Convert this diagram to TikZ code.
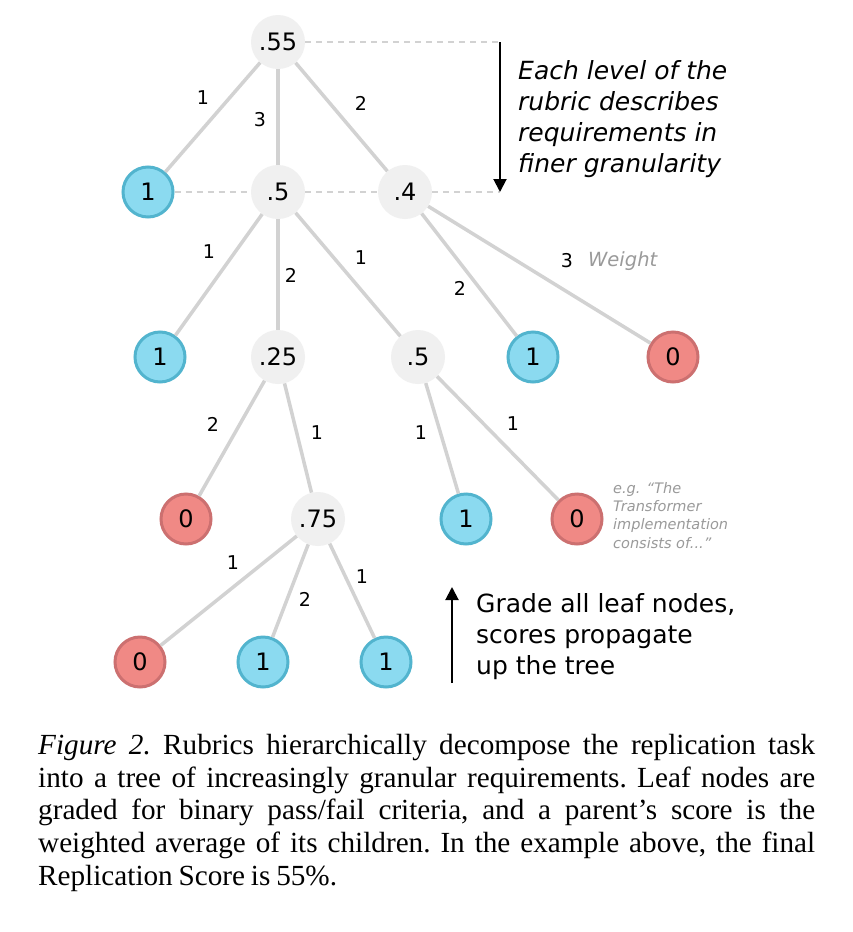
\documentclass[tikz,border=0pt]{standalone}
\usepackage{fontspec}
\setmainfont{Liberation Serif}
\newfontfamily\diagfont{DejaVu Sans}
\usetikzlibrary{arrows.meta}
\definecolor{nodegray}{HTML}{F0F0F0}
\definecolor{passfill}{HTML}{8BDAF0}
\definecolor{passline}{HTML}{52B4CE}
\definecolor{failfill}{HTML}{F08985}
\definecolor{failline}{HTML}{CC7070}
\definecolor{edgegray}{HTML}{D2D2D2}
\definecolor{notegray}{HTML}{9A9A9A}
\newcommand\captionspacing{\frenchspacing\spaceskip=0.2em plus 0.4em minus 0.06em\relax}
\tikzset{
    score/.style={font=\diagfont\fontsize{24}{24}\selectfont, inner sep=0pt},
    inner/.style={score, circle, fill=nodegray, minimum size=54pt},
    pass/.style={score, circle, fill=passfill, draw=passline, line width=3pt, minimum size=50pt},
    fail/.style={score, circle, fill=failfill, draw=failline, line width=3pt, minimum size=50pt},
    edge/.style={edgegray, line width=3.5pt},
    level/.style={edgegray, line width=2pt, dash pattern=on 6pt off 5pt},
    weight/.style={font=\diagfont\fontsize{19}{19}\selectfont, inner sep=0pt},
    hint/.style={font=\diagfont\itshape\fontsize{25}{31}\selectfont, inner sep=0pt, align=left, anchor=north west},
    note/.style={notegray, font=\diagfont\itshape\fontsize{14.5}{18.3}\selectfont, inner sep=0pt, align=left, anchor=north west},
    flow/.style={-{Triangle[width=13pt,length=13pt]}, line width=2pt, black}
}
\begin{document}
\begin{tikzpicture}[x=1pt, y=-1pt]
\path[use as bounding box, fill=white] (0,0) rectangle (852,932);

% level lines and arrows
\coordinate (top) at (500,42);
\coordinate (bot) at (500,192);
\coordinate (upS) at (452,683);
\coordinate (upE) at (452,587);

\node[inner] at (278,42) (r) {.55};

\node[pass] at (148,192) (a1) {1};
\node[inner] at (278,192) (a2) {.5};
\node[inner] at (405,192) (a3) {.4};

\node[pass] at (160,357) (b1) {1};
\node[inner] at (278,357) (b2) {.25};
\node[inner] at (418,357) (b3) {.5};
\node[pass] at (533,357) (b4) {1};
\node[fail] at (673,357) (b5) {0};

\node[fail] at (186,519) (c1) {0};
\node[inner] at (318,519) (c2) {.75};
\node[pass] at (466,519) (c3) {1};
\node[fail] at (577,519) (c4) {0};

\node[fail] at (140,662) (d1) {0};
\node[pass] at (263,662) (d2) {1};
\node[pass] at (386,662) (d3) {1};

\draw[level] (r) -- (top);
\draw[level] (a1) -- (a2);
\draw[level] (a2) -- (a3);
\draw[level] (a3) -- (bot);
\draw[flow] (top) -- (bot);
\draw[flow] (upS) -- (upE);

\draw[edge] (r) -- (a1);
\draw[edge] (r) -- (a2);
\draw[edge] (r) -- (a3);
\draw[edge] (a2) -- (b1);
\draw[edge] (a2) -- (b2);
\draw[edge] (a2) -- (b3);
\draw[edge] (a3) -- (b4);
\draw[edge] (a3) -- (b5);
\draw[edge] (b2) -- (c1);
\draw[edge] (b2) -- (c2);
\draw[edge] (b3) -- (c3);
\draw[edge] (b3) -- (c4);
\draw[edge] (c2) -- (d1);
\draw[edge] (c2) -- (d2);
\draw[edge] (c2) -- (d3);

% weights
\node[weight] at (203,98) (w1) {1};
\node[weight] at (260,120) (w2) {3};
\node[weight] at (361,103) (w3) {2};
\node[weight] at (209,252) (w4) {1};
\node[weight] at (291,275) (w5) {2};
\node[weight] at (361,258) (w6) {1};
\node[weight] at (460,288) (w7) {2};
\node[weight] at (567,261) (w8) {3};
\node[weight] at (213,424) (w9) {2};
\node[weight] at (317,433) (w10) {1};
\node[weight] at (421,433) (w11) {1};
\node[weight] at (513,424) (w12) {1};
\node[weight] at (233,563) (w13) {1};
\node[weight] at (305,599) (w14) {2};
\node[weight] at (362,577) (w15) {1};
\node[weight, notegray, font=\diagfont\itshape\fontsize{19.5}{19.5}\selectfont, anchor=west] at (588,261) (wlabel) {Weight};

% side texts
\node[hint] at (518,60) (down) {Each level of the\\rubric describes\\requirements in\\finer granularity};
\node[hint, font=\diagfont\fontsize{25}{31}\selectfont] at (476,593) (up) {Grade all leaf nodes,\\scores propagate\\up the tree};
\node[note] at (613,482) (example) {e.g. “The\\Transformer\\implementation\\consists of...”};

% caption
\node[anchor=north west, text width=777pt, align=justify, inner sep=0pt, font=\fontsize{29.2}{32.7}\selectfont] at (38,734) (caption)
{\captionspacing\textit{Figure 2.} Rubrics hierarchically decompose the replication task\linebreak
into a tree of increasingly granular requirements. Leaf nodes are\linebreak
graded for binary pass/fail criteria, and a parent’s score is the\linebreak
weighted average of its children. In the example above, the final\linebreak
Replication Score is 55\%.};
\end{tikzpicture}
\end{document}
